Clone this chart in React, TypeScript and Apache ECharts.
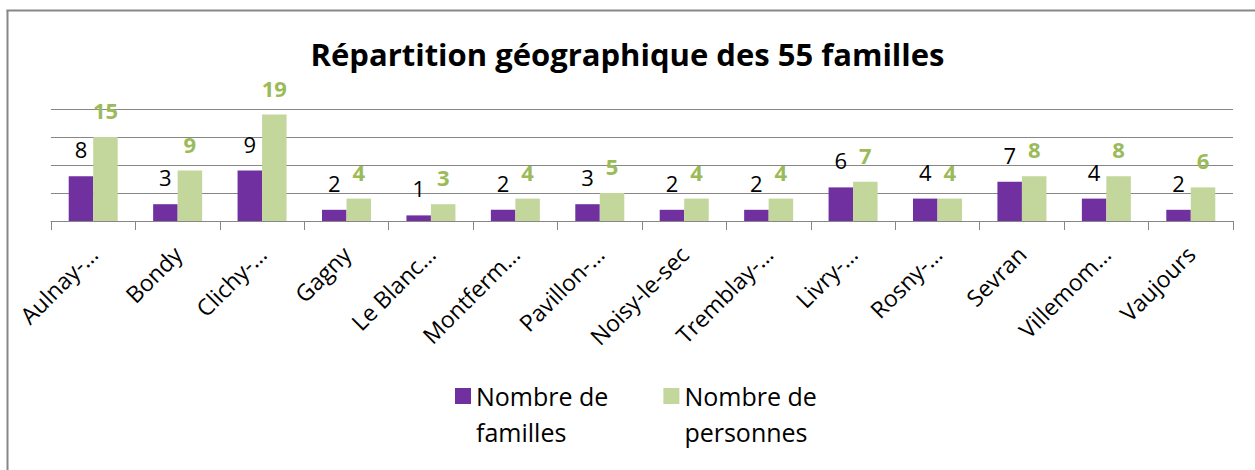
import React, { useEffect, useRef } from "react";
import * as echarts from "echarts";

const title = "Répartition géographique des 55 familles";
const categories = [
  "Aulnay-…",
  "Bondy",
  "Clichy-…",
  "Gagny",
  "Le Blanc…",
  "Montferm…",
  "Pavillon-…",
  "Noisy-le-sec",
  "Tremblay-…",
  "Livry-…",
  "Rosny-…",
  "Sevran",
  "Villemom…",
  "Vaujours",
];
const seriesNames = ["Nombre de\nfamilles", "Nombre de\npersonnes"];
const familles = [8, 3, 9, 2, 1, 2, 3, 2, 2, 6, 4, 7, 4, 2];
const personnes = [15, 9, 19, 4, 3, 4, 5, 4, 4, 7, 4, 8, 8, 6];

const FONT = "'Open Sans', sans-serif";
const PURPLE = "#7030A0";
const GREEN = "#C3D69B";
const GREEN_LABEL = "#9BBB59";
const GRAY = "#878787";

export default function App() {
  const ref = useRef<HTMLDivElement>(null);
  useEffect(() => {
    if (!ref.current) return;
    const chart = echarts.init(ref.current, null, { renderer: "svg" });
    chart.setOption({
      animation: false,
      backgroundColor: "#ffffff",
      title: {
        text: title,
        left: "center",
        top: 33,
        textStyle: {
          fontFamily: FONT,
          fontSize: 31,
          fontWeight: "bold",
          color: "#000",
        },
      },
      legend: {
        left: 455,
        top: 378,
        padding: 0,
        itemWidth: 16,
        itemHeight: 52,
        itemGap: 55,
        icon: "path://M0,0L16,0L16,16L0,16ZM0,52L0.01,52",
        textStyle: {
          fontFamily: FONT,
          fontSize: 25,
          lineHeight: 36,
          color: "#000",
        },
        data: seriesNames,
      },
      graphic: [
        {
          type: "line",
          shape: { x1: 7.5, y1: 10, x2: 7.5, y2: 470 },
          style: { stroke: GRAY, lineWidth: 2 },
        },
        {
          type: "line",
          shape: { x1: 6.5, y1: 10.5, x2: 1255, y2: 10.5 },
          style: { stroke: GRAY, lineWidth: 2 },
        },
      ],
      grid: {
        left: 51,
        right: 22,
        top: 109,
        bottom: 249,
        outerBoundsMode: "none",
      },
      xAxis: {
        type: "category",
        data: categories,
        axisLine: { lineStyle: { color: GRAY, width: 1 } },
        axisTick: { show: true, length: 9, lineStyle: { color: GRAY } },
        axisLabel: {
          interval: 0,
          rotate: 45,
          margin: 29,
          fontFamily: FONT,
          fontSize: 23,
          color: "#000",
        },
      },
      yAxis: {
        type: "value",
        min: 0,
        max: 20,
        interval: 5,
        axisLabel: { show: false },
        axisLine: { show: false },
        axisTick: { show: false },
        splitLine: { lineStyle: { color: GRAY, width: 1 } },
      },
      series: [
        {
          name: seriesNames[0],
          type: "bar",
          data: familles,
          barWidth: 24.5,
          barGap: "0%",
          itemStyle: { color: PURPLE },
          label: {
            show: true,
            position: "top",
            distance: 16,
            fontFamily: FONT,
            fontSize: 22,
            color: "#000",
          },
        },
        {
          name: seriesNames[1],
          type: "bar",
          data: personnes,
          barWidth: 24.5,
          barGap: "0%",
          itemStyle: { color: GREEN },
          label: {
            show: true,
            position: "top",
            distance: 16,
            fontFamily: FONT,
            fontSize: 22,
            fontWeight: "bold",
            color: GREEN_LABEL,
          },
        },
      ],
    });
    return () => chart.dispose();
  }, []);
  return (
    <div
      ref={ref}
      style={{
        position: "fixed",
        left: 0,
        top: 0,
        width: 1255,
        height: 470,
        background: "#fff",
      }}
    />
  );
}
